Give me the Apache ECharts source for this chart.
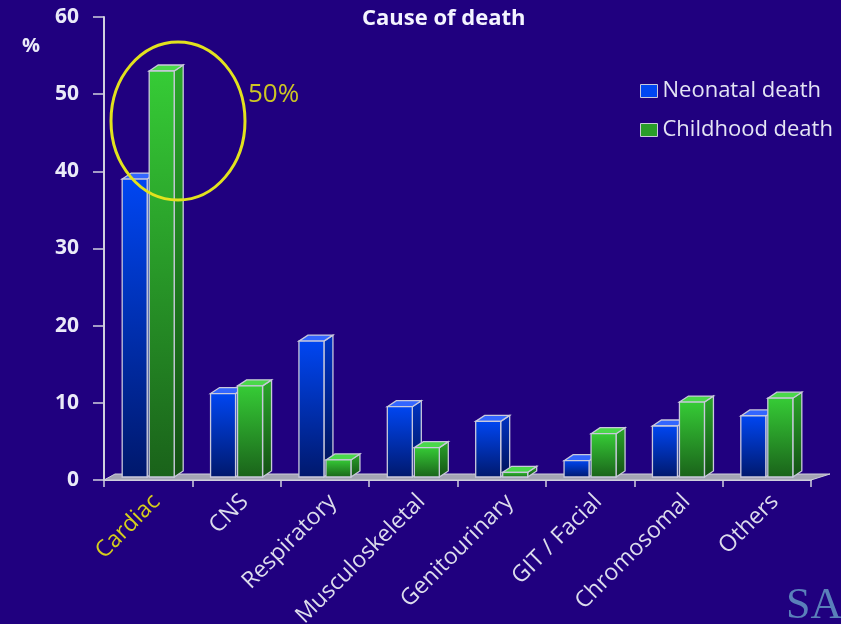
<!DOCTYPE html>
<html>
<head>
<meta charset="utf-8">
<script src="https://cdn.jsdelivr.net/npm/echarts@6/dist/echarts.min.js"></script>
<style>
  html, body { margin: 0; padding: 0; background: #20007f; }
  #chart { width: 841px; height: 624px; }
</style>
</head>
<body>
<div id="chart"></div>
<script>
// Cause of death, % of cases
const categories = ['Cardiac', 'CNS', 'Respiratory', 'Musculoskeletal', 'Genitourinary', 'GIT / Facial', 'Chromosomal', 'Others'];
const neonatalDeath = [39, 11.2, 18, 9.5, 7.6, 2.5, 7, 8.3];
const childhoodDeath = [53, 12.2, 2.6, 4.2, 1, 6, 10.1, 10.6];
const seriesNames = ['Neonatal death', 'Childhood death'];
const yMin = 0, yMax = 60, yStep = 10;

const chart = echarts.init(document.getElementById('chart'));

// depth of the pseudo-3D extrusion, in pixels
const DX = 9, DY = 6;
const EDGE = '#c9c9dc';

function grad(c1, c2) {
  return new echarts.graphic.LinearGradient(0, 0, 0, 1, [
    { offset: 0, color: c1 }, { offset: 1, color: c2 }
  ]);
}

const palettes = {
  neonatal: { front: ['#0046f2', '#00186c'], side: ['#0034c4', '#001256'], top: '#3366ff' },
  childhood: { front: ['#36cc36', '#1a621a'], side: ['#2aa62a', '#145014'], top: '#4ad84a' }
};

// renders one extruded bar: front face, right side face and top face
function bar3d(offset, width, pal) {
  return function (params, api) {
    const idx = api.value(0);
    const top = api.coord([idx, api.value(1)]);
    const base = api.coord([idx, 0]);
    const x0 = top[0] + offset, x1 = x0 + width;
    const yT = top[1], yB = base[1] - 3;
    const stroke = { stroke: EDGE, lineWidth: 1.3 };
    return {
      type: 'group',
      children: [
        { type: 'polygon', shape: { points: [[x1, yT], [x1 + DX, yT - DY], [x1 + DX, yB - DY], [x1, yB]] },
          style: Object.assign({ fill: grad(pal.side[0], pal.side[1]) }, stroke) },
        { type: 'polygon', shape: { points: [[x0, yT], [x0 + DX, yT - DY], [x1 + DX, yT - DY], [x1, yT]] },
          style: Object.assign({ fill: pal.top }, stroke) },
        { type: 'rect', shape: { x: x0, y: yT, width: width, height: Math.max(yB - yT, 0) },
          style: Object.assign({ fill: grad(pal.front[0], pal.front[1]) }, stroke) }
      ]
    };
  };
}

// grey floor strip under the bars
function floorItem(params, api) {
  const a = api.coord([0, 0]);
  const step = api.size([1, 0])[0];
  const xL = a[0] - step / 2, xR = a[0] + step * (categories.length - 0.5);
  const y = a[1];
  return {
    type: 'polygon',
    shape: { points: [[xL, y], [xL + DX + 2, y - DY], [xR + DX + 10, y - DY], [xR, y]] },
    style: { fill: '#a4a4b4', stroke: '#d0d0dc', lineWidth: 1 }
  };
}

const FONT = '"Open Sans", Lato, sans-serif';

chart.setOption({
  backgroundColor: '#20007f',
  animation: false,
  title: {
    text: 'Cause of death',
    left: 357, top: 3,
    textStyle: { color: '#f4f4ff', fontSize: 22, fontWeight: 'bold', fontFamily: FONT }
  },
  legend: {
    orient: 'vertical',
    left: 635, top: 75,
    itemWidth: 17, itemHeight: 13, itemGap: 17,
    textStyle: { color: '#e4e4f4', fontSize: 22, fontFamily: FONT },
    data: [
      { name: seriesNames[0], icon: 'rect', itemStyle: { color: '#0046f2', borderColor: EDGE, borderWidth: 1 } },
      { name: seriesNames[1], icon: 'rect', itemStyle: { color: '#2a9e2a', borderColor: EDGE, borderWidth: 1 } }
    ]
  },
  grid: { left: 104, right: 30, top: 17, bottom: 144, outerBoundsMode: 'none', containLabel: false },
  xAxis: {
    type: 'category',
    data: categories,
    boundaryGap: true,
    axisLine: { lineStyle: { color: '#d0d0de', width: 2 } },
    axisTick: { show: true, length: 7, lineStyle: { color: '#d0d0de', width: 1.5 } },
    axisLabel: {
      rotate: 45, margin: 10, interval: 0,
      verticalAlign: 'top',
      fontSize: 23, fontFamily: FONT,
      color: function (v) { return v === 'Cardiac' ? '#d6cf1c' : '#dcdcec'; }
    }
  },
  yAxis: {
    type: 'value',
    min: yMin, max: yMax, interval: yStep,
    axisLine: { show: true, lineStyle: { color: '#d0d0de', width: 2 } },
    axisTick: { show: true, length: 11, lineStyle: { color: '#d0d0de', width: 1.5 } },
    splitLine: { show: false },
    axisLabel: { color: '#eaeaf8', fontSize: 21, fontWeight: 'bold', fontFamily: FONT, margin: 25 }
  },
  series: [
    {
      name: 'floor', type: 'custom', silent: true, z: 1,
      renderItem: floorItem, data: [[0, 0]], encode: { x: 0, y: 1 }
    },
    {
      name: seriesNames[0], type: 'custom', z: 2,
      itemStyle: { color: '#0046f2' },
      renderItem: bar3d(-26, 25, palettes.neonatal),
      encode: { x: 0, y: 1 },
      data: neonatalDeath.map((v, i) => [i, v])
    },
    {
      name: seriesNames[1], type: 'custom', z: 3,
      itemStyle: { color: '#2a9e2a' },
      renderItem: bar3d(1, 25, palettes.childhood),
      encode: { x: 0, y: 1 },
      data: childhoodDeath.map((v, i) => [i, v])
    }
  ],
  graphic: [
    { type: 'text', left: 22, top: 36,
      style: { text: '%', fill: '#eaeaf8', font: 'bold 20px ' + FONT } },
    { type: 'ellipse', z: 10, shape: { cx: 178, cy: 121, rx: 67, ry: 79 },
      style: { fill: 'none', stroke: '#e2e21e', lineWidth: 3 } },
    { type: 'text', left: 248, top: 82, z: 10,
      style: { text: '50%', fill: '#cdc624', font: '26px ' + FONT } },
    { type: 'text', left: 786, top: 584,
      style: { text: 'SA', fill: '#5a80ba', font: '44px "Liberation Serif", "DejaVu Serif", serif' } }
  ]
});
</script>
</body>
</html>
